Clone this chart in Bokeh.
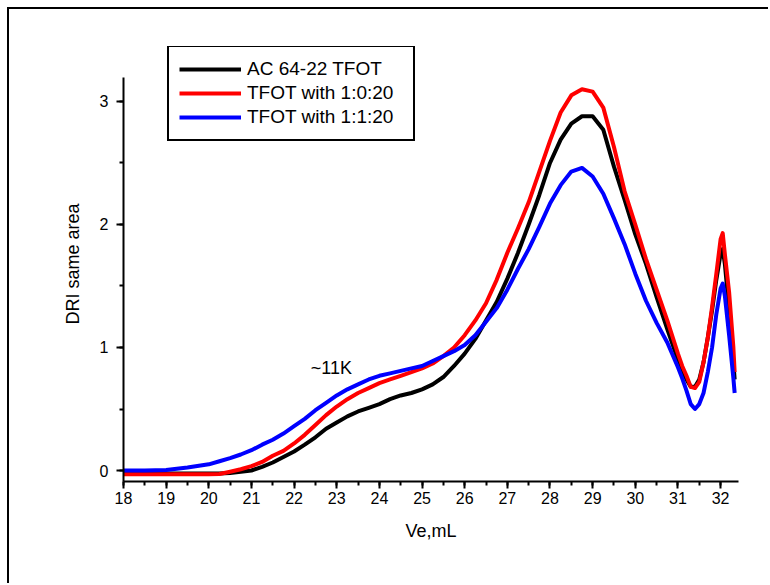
from bokeh.plotting import figure
from bokeh.models import Range1d, SingleIntervalTicker, Legend, LegendItem, ColumnDataSource
from bokeh.core.properties import value
from bokeh.embed import file_html
from bokeh.resources import INLINE

# ---- data ----
ve = [18, 18.5, 19, 19.5, 20, 20.25, 20.5, 20.75, 21, 21.25, 21.5, 21.75,
      22, 22.25, 22.5, 22.75, 23, 23.25, 23.5, 23.75, 24, 24.25, 24.5, 24.75,
      25, 25.25, 25.5, 25.75, 26, 26.25, 26.5, 26.75, 27, 27.25, 27.5, 27.75,
      28, 28.25, 28.5, 28.75, 29, 29.25, 29.5, 29.75, 30, 30.25, 30.5, 30.75,
      31, 31.1, 31.2, 31.3, 31.4, 31.5, 31.6, 31.7, 31.8, 31.9, 32.0, 32.05,
      32.1, 32.2, 32.3, 32.33]

ac6422_tfot = [-0.025, -0.025, -0.025, -0.025, -0.025, -0.025, -0.02, -0.01, 0.0, 0.03, 0.065, 0.11,
               0.155, 0.21, 0.27, 0.34, 0.39, 0.44, 0.48, 0.51, 0.54, 0.58, 0.61, 0.63,
               0.66, 0.70, 0.76, 0.85, 0.95, 1.07, 1.22, 1.37, 1.56, 1.77, 2.0, 2.24,
               2.50, 2.69, 2.82, 2.88, 2.88, 2.77, 2.47, 2.20, 1.92, 1.68, 1.41, 1.15,
               0.90, 0.81, 0.74, 0.68, 0.68, 0.74, 0.88, 1.08, 1.30, 1.55, 1.76, 1.80,
               1.68, 1.30, 0.88, 0.74]

tfot_1_0_20 = [-0.03, -0.03, -0.03, -0.03, -0.03, -0.028, -0.01, 0.01, 0.035, 0.07, 0.12, 0.16,
               0.22, 0.29, 0.37, 0.45, 0.52, 0.58, 0.63, 0.67, 0.71, 0.74, 0.77, 0.80,
               0.83, 0.87, 0.93, 1.0, 1.10, 1.22, 1.36, 1.55, 1.77, 1.97, 2.18, 2.43,
               2.68, 2.91, 3.05, 3.10, 3.08, 2.95, 2.63, 2.27, 2.0, 1.72, 1.47, 1.22,
               0.95, 0.85, 0.77, 0.68, 0.67, 0.72, 0.88, 1.08, 1.33, 1.60, 1.88, 1.93,
               1.76, 1.45, 1.0, 0.80]

tfot_1_1_20 = [0.0, 0.0, 0.005, 0.025, 0.05, 0.075, 0.10, 0.13, 0.165, 0.21, 0.25, 0.30,
               0.36, 0.42, 0.49, 0.55, 0.61, 0.66, 0.70, 0.74, 0.77, 0.79, 0.81, 0.83,
               0.85, 0.89, 0.93, 0.97, 1.02, 1.10, 1.21, 1.32, 1.47, 1.64, 1.80, 1.98,
               2.17, 2.32, 2.43, 2.46, 2.39, 2.25, 2.05, 1.84, 1.60, 1.38, 1.20, 1.04,
               0.84, 0.75, 0.65, 0.54, 0.50, 0.54, 0.63, 0.80, 1.0, 1.27, 1.48, 1.52,
               1.42, 1.10, 0.75, 0.63]

series_names = ["AC 64-22 TFOT", "TFOT with 1:0:20", "TFOT with 1:1:20"]
series_colors = ["#000000", "#ff0000", "#0000ff"]

annot_text = ["~11K"]
annot_x = [22.39]
annot_y = [0.83]

FONT = "Liberation Sans"

p = figure(width=761, height=576, output_backend="svg", toolbar_location=None,
           x_range=Range1d(18, 32.42), y_range=Range1d(-0.0894, 3.447),
           x_axis_label="Ve,mL", y_axis_label="DRI same area",
           min_border_left=114, min_border_right=32, min_border_top=37, min_border_bottom=104,
           styles={"margin-left": "7px", "margin-top": "7px",
                   "border-top": "2px solid black", "border-left": "2px solid black"})

p.outline_line_color = None
p.xgrid.visible = False
p.ygrid.visible = False
p.background_fill_color = "white"
p.border_fill_color = "white"

for ax in (p.xaxis[0], p.yaxis[0]):
    ax.axis_line_width = 2
    ax.major_tick_line_width = 2
    ax.minor_tick_line_width = 2
    ax.major_tick_in = 0
    ax.major_tick_out = 7
    ax.minor_tick_in = 0
    ax.minor_tick_out = 4
    ax.major_label_text_font = FONT
    ax.major_label_text_font_size = "16px"
    ax.major_label_text_color = "black"
    ax.axis_label_text_font = FONT
    ax.axis_label_text_font_size = "18px"
    ax.axis_label_text_font_style = "normal"
    ax.axis_label_text_color = "black"

p.xaxis[0].ticker = SingleIntervalTicker(interval=1, num_minor_ticks=2)
p.yaxis[0].ticker = SingleIntervalTicker(interval=1, num_minor_ticks=2)
p.yaxis[0].bounds = (-0.0894, 3.195)
p.xaxis[0].major_label_standoff = 3
p.xaxis[0].axis_label_standoff = 14
p.yaxis[0].major_label_standoff = 8
p.yaxis[0].axis_label_standoff = 14

renderers = []
for ys, c in zip([ac6422_tfot, tfot_1_0_20, tfot_1_1_20], series_colors):
    src = ColumnDataSource(dict(x=ve, y=ys))
    r = p.line("x", "y", source=src, line_color=c, line_width=4, line_join="round")
    renderers.append(r)

p.text(x=annot_x, y=annot_y, text=annot_text, text_font=value(FONT),
       text_font_size="18px", text_align="left", text_baseline="middle", text_color="black")

legend = Legend(items=[LegendItem(label=n, renderers=[r]) for n, r in zip(series_names, renderers)],
                location=(44, 340))
legend.padding = 10
legend.spacing = 0
legend.label_height = 24
legend.glyph_height = 24
legend.glyph_width = 62
legend.label_standoff = 6
legend.label_width = 156
legend.margin = 0
legend.border_line_color = "black"
legend.border_line_alpha = 1
legend.border_line_width = 2
legend.background_fill_color = "white"
legend.background_fill_alpha = 1
legend.label_text_font = FONT
legend.label_text_font_size = "19px"
legend.label_text_color = "black"
p.add_layout(legend, "center")

open("out.html", "w").write(file_html(p, INLINE))
